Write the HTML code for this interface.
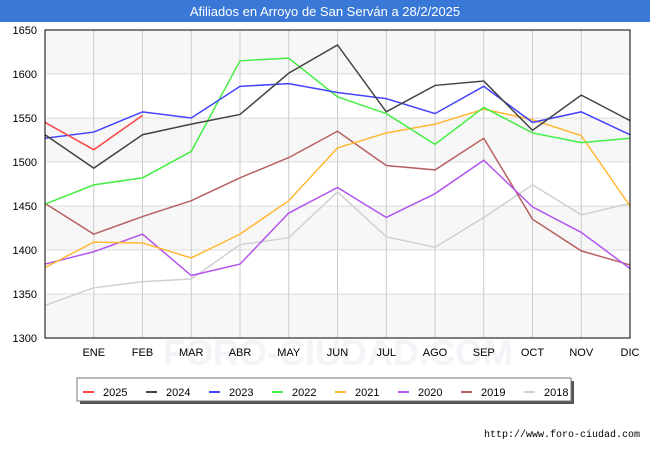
<!DOCTYPE html>
<html><head><meta charset="utf-8"><style>
body{margin:0;width:650px;height:450px;background:#fff;font-family:"Liberation Sans",sans-serif;overflow:hidden}
</style></head><body>
<svg id="chart" width="650" height="450" xmlns="http://www.w3.org/2000/svg">
<rect x="0" y="0" width="650" height="22" fill="#3a78d8"/>
<text x="325" y="16" text-anchor="middle" fill="#fff" font-size="13" font-family="Liberation Sans, sans-serif">Afiliados en Arroyo de San Serván a 28/2/2025</text>
<g id="grid"></g>
<text x="338" y="365" text-anchor="middle" fill="#f4f4f8" font-size="36" font-family="Liberation Sans, sans-serif" font-weight="bold">FORO-CIUDAD.COM</text>
<g id="lines"></g>
<rect x="45" y="30" width="585" height="308" fill="none" stroke="#000" stroke-width="1"/>
<g id="axes"></g>
<g id="legend"></g>
<text x="640" y="437" text-anchor="end" font-size="10" fill="#000" font-family="Liberation Mono, monospace">http://www.foro-ciudad.com</text>
</svg>
<script>
const months = ["", "ENE","FEB","MAR","ABR","MAY","JUN","JUL","AGO","SEP","OCT","NOV","DIC"];
const yTicks = [1300,1350,1400,1450,1500,1550,1600,1650];
const years = ["2025","2024","2023","2022","2021","2020","2019","2018"];
const colors = ["#ff4444","#444444","#4444ff","#44ee44","#ffb833","#b455ee","#b86060","#d0d0d0"];
const v2025 = [1545,1514,1553];
const v2024 = [1531,1493,1531,1543,1554,1601,1633,1557,1587,1592,1536,1576,1547];
const v2023 = [1527,1534,1557,1550,1586,1589,1579,1572,1555,1586,1545,1557,1531];
const v2022 = [1452,1474,1482,1512,1615,1618,1574,1555,1520,1562,1533,1522,1527];
const v2021 = [1380,1409,1408,1391,1418,1456,1516,1533,1543,1560,1548,1530,1450];
const v2020 = [1384,1398,1418,1371,1384,1442,1471,1437,1464,1502,1449,1420,1379];
const v2019 = [1453,1418,1438,1456,1482,1505,1535,1496,1491,1527,1435,1399,1383];
const v2018 = [1337,1357,1364,1367,1406,1414,1466,1415,1403,1437,1474,1440,1453];
const series = [v2025,v2024,v2023,v2022,v2021,v2020,v2019,v2018];
const NS="http://www.w3.org/2000/svg";
const L=45,R=630,T=30,B=338,yMin=1300,yMax=1650;
const xS=i=>L+i*(R-L)/(months.length-1);
const yS=v=>B-(v-yMin)/(yMax-yMin)*(B-T);
function mk(tag,attrs,parent){const e=document.createElementNS(NS,tag);for(const k in attrs)e.setAttribute(k,attrs[k]);parent.appendChild(e);return e;}
const grid=document.getElementById('grid'),axes=document.getElementById('axes'),lines=document.getElementById('lines'),leg=document.getElementById('legend');
for(let i=0;i<yTicks.length-1;i++){
  if(i%2==0){const r=mk('rect',{x:L,y:yS(yTicks[i+1]),width:R-L,height:yS(yTicks[i])-yS(yTicks[i+1]),fill:'#f7f7f7'},grid);
  
  }
}
yTicks.forEach(t=>{
  const g=mk('line',{x1:L,x2:R,y1:yS(t),y2:yS(t),stroke:'#dddddd','stroke-width':1},grid);
  
  
  const tx=mk('text',{x:37,y:yS(t)+4,'text-anchor':'end','font-size':11,fill:'#000'},axes);
  tx.textContent=t;
  
  
});
months.forEach((m,i)=>{
  if(i>0&&i<months.length-1){const g=mk('line',{x1:xS(i),x2:xS(i),y1:T,y2:B,stroke:'#cccccc','stroke-width':1},grid);
  
  }
  if(m){const tx=mk('text',{x:xS(i),y:356,'text-anchor':'middle','font-size':11,fill:'#000'},axes);
  tx.textContent=m;
  
  }
});
for(let s=series.length-1;s>=0;s--){
  const pts=series[s].map((v,i)=>xS(i)+','+yS(v)).join(' ');
  const p=mk('polyline',{points:pts,fill:'none',stroke:colors[s],'stroke-width':1.5},lines);
  
  
}
mk('rect',{x:80,y:381,width:494,height:23,fill:'#555'},leg);
const box=mk('rect',{x:77,y:378,width:494,height:23,fill:'#fff',stroke:'#777','stroke-width':1},leg);


years.forEach((y,i)=>{
  const x=83+i*63;
  const sw=mk('rect',{x:x,y:391,width:11,height:2,fill:colors[i]},leg);
  
  
  const t=mk('text',{x:x+20,y:396,'font-size':11,fill:'#000'},leg);
  t.textContent=y;
  
  
});
</script>
</body></html>
